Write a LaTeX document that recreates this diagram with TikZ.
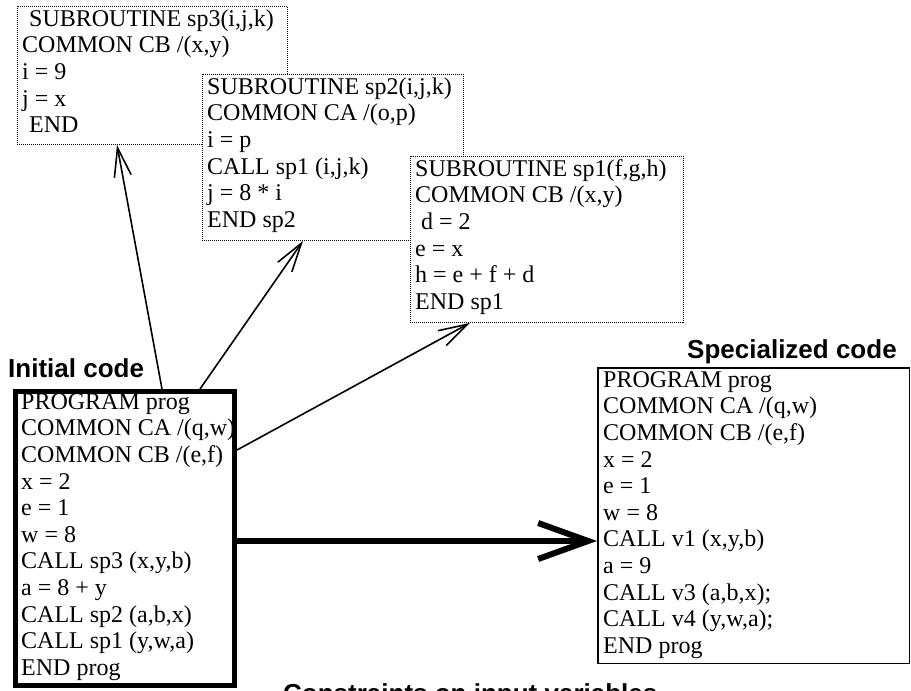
\documentclass[tikz,border=0pt]{standalone}
\usepackage{fontspec}
\setmainfont{Liberation Serif}
\newfontfamily\labelfont{Liberation Sans}
\usetikzlibrary{arrows.meta}
\begin{document}
\begin{tikzpicture}[x=1pt,y=1pt,
  code/.style={anchor=north west, inner sep=0pt, align=left, font=\fontsize{24}{26.6}\selectfont},
  subbox/.style={draw, fill=white, line width=0.9pt, dash pattern=on 1pt off 1pt, inner sep=0pt, anchor=north west},
  initbox/.style={draw, fill=white, line width=5pt, inner sep=0pt, anchor=north west},
  specbox/.style={draw, fill=white, line width=1.5pt, inner sep=0pt, anchor=north west},
  lbl/.style={anchor=base west, inner sep=0pt, font=\labelfont\bfseries\fontsize{26}{30}\selectfont},
  callarrow/.style={line width=1.6pt, -{Straight Barb[length=29pt,width=17pt]}},
  specarrow/.style={line width=6pt, -{Straight Barb[length=50pt,width=36pt]}}
]
\useasboundingbox (0,0) rectangle (911,-691);
\clip (0,0) rectangle (911,-691);
\fill[white] (0,0) rectangle (911,-691);

% subroutine sp3
\node[subbox, minimum width=270pt, minimum height=138pt] (b3) at (17,-6) {};
\node[code] (t3) at ([xshift=5pt]b3.north west)
 {\rule{0pt}{20pt}\hspace*{7pt}SUBROUTINE sp3(i,j,k)\\ COMMON CB /(x,y)\\ i = 9\\ j = x\\ \hspace*{7pt}END};

% subroutine sp2
\node[subbox, minimum width=261pt, minimum height=166pt] (b2) at (202,-74) {};
\node[code] (t2) at ([xshift=5pt]b2.north west)
 {\rule{0pt}{20pt}SUBROUTINE sp2(i,j,k)\\ COMMON CA /(o,p)\\ i = p\\ CALL sp1 (i,j,k)\\ j = 8 * i\\ END sp2};

% subroutine sp1
\node[subbox, minimum width=273pt, minimum height=166pt] (b1) at (410,-156) {};
\node[code] (t1) at ([xshift=5pt]b1.north west)
 {\rule{0pt}{20pt}SUBROUTINE sp1(f,g,h)\\ COMMON CB /(x,y)\\ \hspace*{6pt}d = 2\\ e = x\\ h = e + f + d\\ END sp1};

% initial code
\node[lbl] (linit) at (8,-377) {Initial code};
\node[initbox, minimum width=219pt, minimum height=294pt] (init) at (13,-389) {};
\node[code] (tinit) at ([xshift=8pt]init.north west)
 {\rule{0pt}{20pt}PROGRAM prog\\ COMMON CA /(q,w)\\ COMMON CB /(e,f)\\ x = 2\\ e = 1\\ w = 8\\ CALL sp3 (x,y,b)\\ a = 8 + y\\ CALL sp2 (a,b,x)\\ CALL sp1 (y,w,a)\\ END prog};

% specialized code
\node[lbl] (lspec) at (687,-358) {Specialized code};
\node[specbox, minimum width=311.5pt, minimum height=295.5pt] (spec) at (597,-367) {};
\node[code] (tspec) at ([xshift=6pt]spec.north west)
 {\rule{0pt}{20pt}PROGRAM prog\\ COMMON CA /(q,w)\\ COMMON CB /(e,f)\\ x = 2\\ e = 1\\ w = 8\\ CALL v1 (x,y,b)\\ a = 9\\ CALL v3 (a,b,x);\\ CALL v4 (y,w,a);\\ END prog};

% constraints label (cut by the picture's lower edge)
\node[lbl] (lcons) at (283,-702) {Constraints on input variables};

% connectors
\draw[callarrow] ([xshift=149pt]init.north west) -- ([xshift=100pt]b3.south west);
\draw[callarrow] ([xshift=187pt]init.north west) -- ([xshift=101pt]b2.south west);
\draw[callarrow] ([yshift=-61pt]init.north east) -- ([xshift=60pt]b1.south west);
\draw[specarrow] ([yshift=-152pt]init.north east) -- ([yshift=-174pt]spec.north west);
\end{tikzpicture}
\end{document}
